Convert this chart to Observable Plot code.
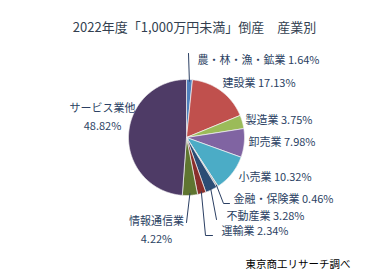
<!DOCTYPE html>
<html><head><meta charset="utf-8">
<script src="https://cdn.jsdelivr.net/npm/d3@7"></script>
<script src="https://cdn.jsdelivr.net/npm/@observablehq/plot@0.6"></script>
<style>body{margin:0;background:#fff;} svg{display:block;}</style>
</head><body><div id="chart"></div>
<script>
// ---- data ----
const categories = ["農・林・漁・鉱業","建設業","製造業","卸売業","小売業","金融・保険業","不動産業","運輸業","情報通信業","サービス業他"];
const shares = [1.64, 17.13, 3.75, 7.98, 10.32, 0.46, 3.28, 2.34, 4.22, 48.82];
const title = "2022年度「1,000万円未満」倒産　産業別";
const source = "東京商工リサーチ調べ";

// ---- style / layout ----
const colors = ["#4F81BD","#C0504D","#9BBB59","#8064A2","#4BACC6","#ABABAB","#2C4D75","#8A2F2C","#5F7530","#4E3B66"];
const W = 386, H = 279;
const cx = 186, cy = 137, R = 58;
// label layout: [x, y, anchor, twoLine]
const labelLayout = [
  [197, 60, "start"],
  [222, 83, "start"],
  [245, 120, "start"],
  [248, 142, "start"],
  [238, 177, "start"],
  [233, 199, "start"],
  [226, 216, "start"],
  [221, 231, "start"],
  [156, 227.5, "middle", true],
  [102, 115, "middle", true]
];
// leader line elbows (end points) for labeled slices; null = none
const leaderEnds = [
  [[188, 53]],
  null, null, null, null,
  [[223, 203], [229, 203]],
  [[216, 219]],
  [[205, 235], [212, 235]],
  [[186, 222]],
  null
];

const arcs = d3.pie().sort(null).value(d => d)(shares);
const pt = (a, r) => [cx + r * Math.sin(a), cy - r * Math.cos(a)];

const polys = [];
arcs.forEach((a, i) => {
  const cat = categories[i];
  polys.push({cat, x: cx, y: cy});
  const n = Math.max(2, Math.ceil((a.endAngle - a.startAngle) / 0.01));
  for (let k = 0; k <= n; k++) {
    const ang = a.startAngle + (a.endAngle - a.startAngle) * k / n;
    const [x, y] = pt(ang, R);
    polys.push({cat, x, y});
  }
  polys.push({cat, x: cx, y: cy});
});

const leaders = [];
arcs.forEach((a, i) => {
  if (!leaderEnds[i]) return;
  const mid = (a.startAngle + a.endAngle) / 2;
  const [x0, y0] = pt(mid, R * 0.97);
  leaders.push({id: i, x: x0, y: y0});
  leaderEnds[i].forEach(([x, y]) => leaders.push({id: i, x, y}));
});

const labels = categories.map((c, i) => {
  const [x, y, anchor, two] = labelLayout[i];
  return {x, y, anchor, text: two ? `${c}\n${shares[i].toFixed(2)}%` : `${c} ${shares[i].toFixed(2)}%`, two};
});

const font = "'Noto Sans CJK JP', 'Noto Sans', sans-serif";
const chart = Plot.plot({
  width: W, height: H, margin: 0,
  x: {domain: [0, W], range: [0, W], axis: null},
  y: {domain: [0, H], range: [0, H], axis: null},
  color: {domain: categories, range: colors},
  style: {fontFamily: font, background: "#fff"},
  marks: [
    Plot.line(polys, {x: "x", y: "y", z: "cat", fill: "cat", stroke: "#f4f4f4", strokeWidth: 0.7, curve: "linear"}),
    Plot.line(leaders, {x: "x", y: "y", z: "id", stroke: "#2B3F63", strokeWidth: 1}),
    Plot.text(labels.filter(d => !d.two), {x: "x", y: "y", text: "text", textAnchor: "start", fill: "#2B3F63", fontSize: 11}),
    Plot.text(labels.filter(d => d.two), {x: "x", y: "y", text: "text", textAnchor: "middle", lineHeight: 1.65, fill: "#2B3F63", fontSize: 11}),
    Plot.text([title], {x: [194], y: [27], text: d => d, fontSize: 13, fill: "#333F50", textAnchor: "middle"}),
    Plot.text([source], {x: [245], y: [264], text: d => d, fontSize: 10.5, fill: "#000", textAnchor: "start"})
  ]
});
document.getElementById("chart").appendChild(chart);
</script>
</body></html>
